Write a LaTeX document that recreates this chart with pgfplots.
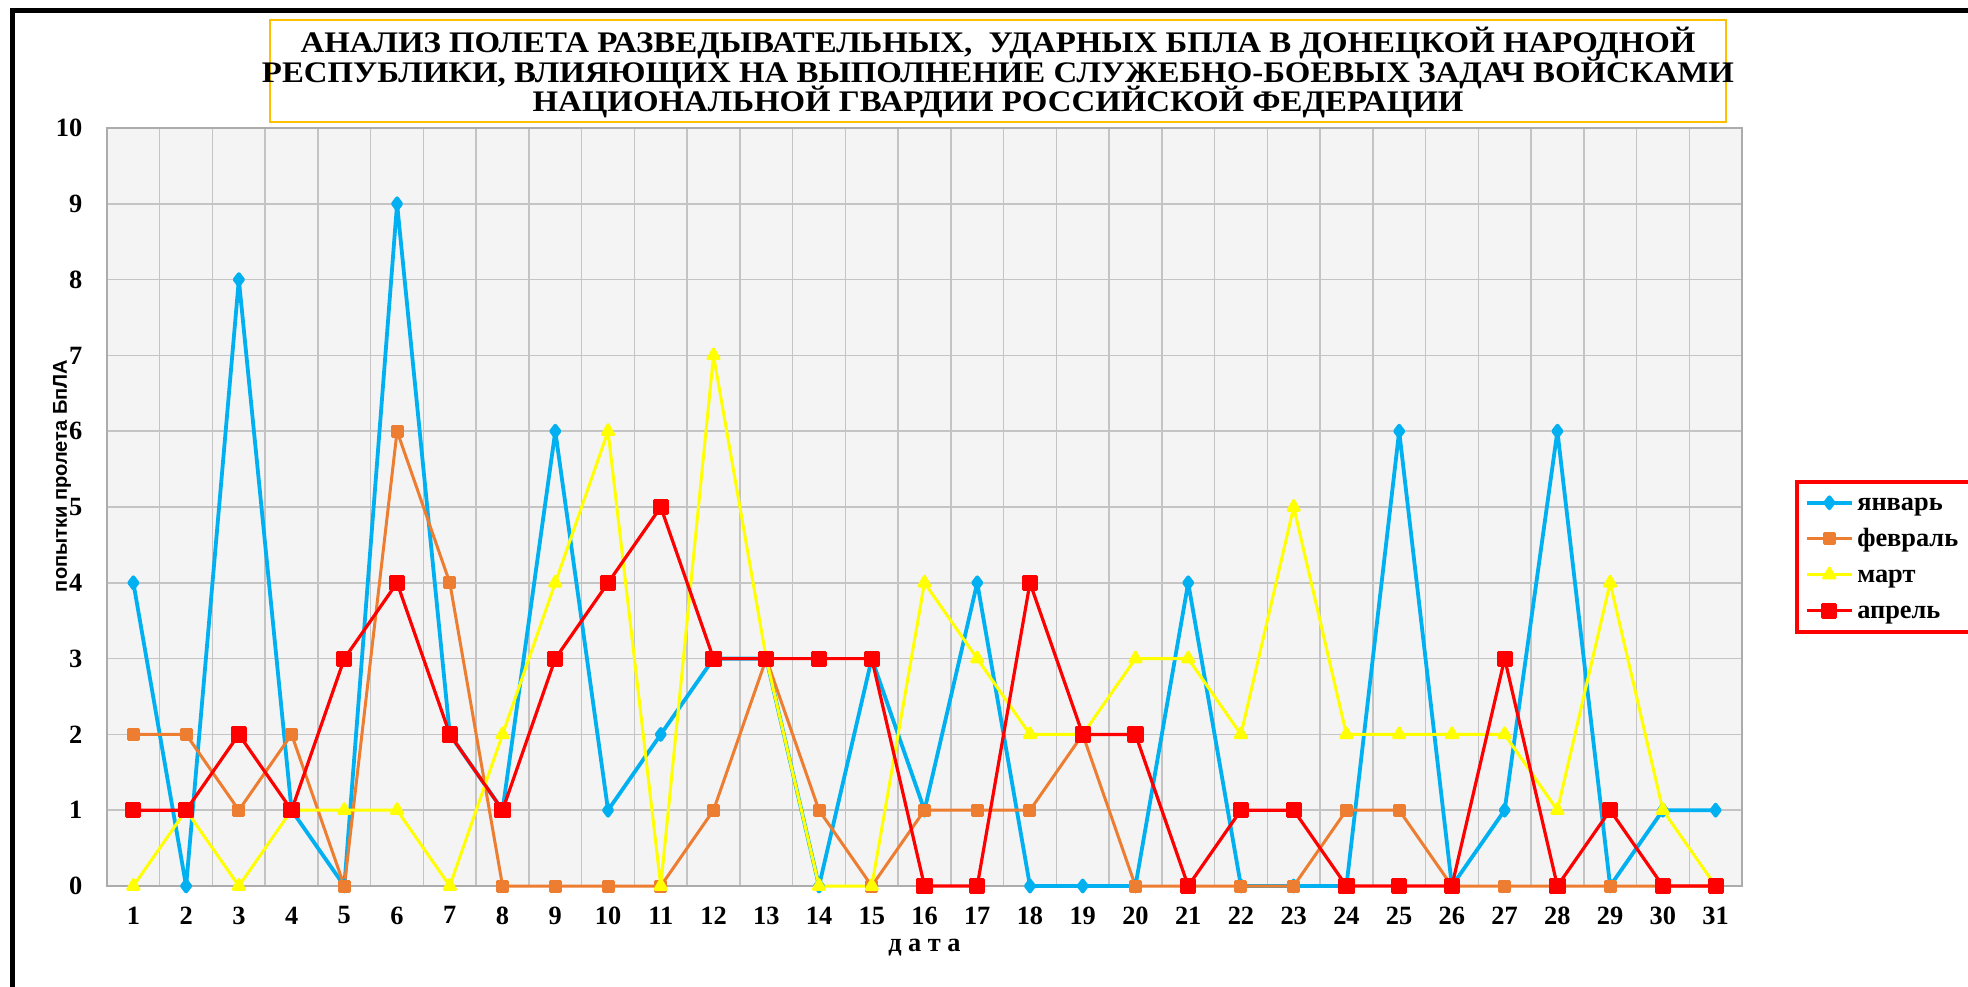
\documentclass[border=0pt]{standalone}
\usepackage{fontspec}
\setmainfont{Liberation Serif}
\newfontfamily\sansfont{Liberation Sans}
\usepackage{graphicx}
\usepackage{pgfplots}
\usepackage{pgfplotstable}
\pgfplotsset{compat=1.18}

\definecolor{cjan}{HTML}{00B0F0}
\definecolor{cfeb}{HTML}{ED7D31}
\definecolor{cmar}{HTML}{FFFF00}
\definecolor{capr}{HTML}{FF0000}
\definecolor{ctitle}{HTML}{FFC000}
\definecolor{cgrid}{HTML}{C4C4C4}
\definecolor{cbg}{HTML}{F4F4F4}

\pgfplotstableread{
day jan feb mar apr
1  4 2 0 1
2  0 2 1 1
3  8 1 0 2
4  1 2 1 1
5  0 0 1 3
6  9 6 1 4
7  2 4 0 2
8  1 0 2 1
9  6 0 4 3
10 1 0 6 4
11 2 0 0 5
12 3 1 7 3
13 3 3 3 3
14 0 1 0 3
15 3 0 0 3
16 1 1 4 0
17 4 1 3 0
18 0 1 2 4
19 0 2 2 2
20 0 0 3 2
21 4 0 3 0
22 0 0 2 1
23 0 0 5 1
24 0 1 2 0
25 6 1 2 0
26 0 0 2 0
27 1 0 2 3
28 6 0 1 0
29 0 0 4 1
30 1 0 1 0
31 1 0 0 0
}\data

\begin{document}
\begin{tikzpicture}
\useasboundingbox (0,0) rectangle (196.8mm,98.6mm);
\clip (0,0) rectangle (196.8mm,98.6mm);
\fill[white] (0,0) rectangle (196.8mm,98.6mm);
% outer frame (top and left edges)
\draw[line width=0.5mm] (1.25mm,-1mm) -- (1.25mm,97.55mm) -- (200mm,97.55mm);
% title box
\draw[draw=ctitle, line width=0.25mm] (27.0mm,86.4mm) rectangle (172.6mm,96.6mm);
\node[inner sep=0pt] at (99.8mm,91.35mm)
 {\scalebox{1.1}[1]{\begin{minipage}{150mm}\centering
  \bfseries\fontsize{8.5}{8.4}\selectfont\lineskiplimit=-10pt
  АНАЛИЗ ПОЛЕТА РАЗВЕДЫВАТЕЛЬНЫХ,\ \ УДАРНЫХ БПЛА В ДОНЕЦКОЙ НАРОДНОЙ\\
  РЕСПУБЛИКИ, ВЛИЯЮЩИХ НА ВЫПОЛНЕНИЕ СЛУЖЕБНО-БОЕВЫХ ЗАДАЧ ВОЙСКАМИ\\
  НАЦИОНАЛЬНОЙ ГВАРДИИ РОССИЙСКОЙ ФЕДЕРАЦИИ\end{minipage}}};

\begin{axis}[
  at={(10.7mm,10.0mm)}, anchor=south west,
  scale only axis, width=163.5mm, height=75.8mm,
  xmin=0.5, xmax=31.5, ymin=0, ymax=10,
  xtick={1,...,31}, ytick={0,...,10},
  minor xtick={1.5,2.5,...,30.5},
  xmajorgrids=false, ymajorgrids=true, xminorgrids=true,
  major tick length=0pt, minor tick length=0pt,
  grid style={draw=cgrid, line width=0.15mm},
  minor grid style={draw=cgrid, line width=0.15mm},
  axis background/.style={fill=cbg},
  axis line style={draw=gray!65, line width=0.25mm},
  clip=false,
  /pgf/number format/assume math mode=true,
  ticklabel style={font=\bfseries\fontsize{7.5}{9}\selectfont},
  xticklabel style={inner sep=0pt, anchor=north, yshift=-2.0mm},
  yticklabel style={inner sep=0pt, anchor=east, xshift=-2.4mm},
  xlabel={д а т а},
  xlabel style={font=\bfseries\fontsize{7.5}{9}\selectfont, at={(axis description cs:0.5,0)}, anchor=center, yshift=-6.2mm},
  ylabel={попытки пролета БпЛА},
  ylabel style={font=\sansfont\bfseries\fontsize{5.7}{7}\selectfont, at={(axis description cs:-0.0275,0.541)}, anchor=center},
  every axis plot/.append style={line join=round},
  legend image code/.code={\draw[mark repeat=2,mark phase=2] plot coordinates {(0mm,0mm) (2.25mm,0mm) (4.5mm,0mm)};},
  legend cell align=left,
  legend style={at={(axis description cs:1.0324,0.536)}, anchor=north west,
    draw=capr, line width=0.4mm, fill=white,
    inner xsep=0.8mm, inner ysep=0.8mm, row sep=1.0mm,
    font=\bfseries\fontsize{7.5}{9}\selectfont,
    nodes={inner sep=0.35mm, text height=1.7mm, text depth=0.2mm}},
]
\addplot[cjan, line width=0.38mm, mark=diamond*, mark size=0.55mm, mark options={solid}] table[x=day,y=jan] {\data};
\addplot[cfeb, line width=0.3mm, mark=square*, mark size=0.5mm] table[x=day,y=feb] {\data};
\addplot[cmar, line width=0.3mm, mark=triangle*, mark size=0.65mm] table[x=day,y=mar] {\data};
\addplot[capr, line width=0.32mm, mark=square*, mark size=0.65mm] table[x=day,y=apr] {\data};
\legend{январь, февраль, март, апрель}
\end{axis}
\end{tikzpicture}
\end{document}
